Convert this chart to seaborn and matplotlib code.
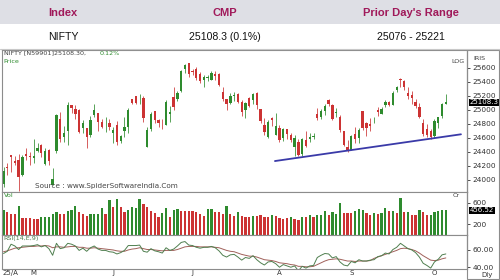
import matplotlib
matplotlib.use("Agg")
import matplotlib.pyplot as plt
import matplotlib.transforms as mtrans
from matplotlib.patches import Rectangle
from matplotlib.lines import Line2D
import seaborn as sns
import numpy as np
import pandas as pd

# ---- data (NIFTY daily, 21 Apr - 7 Oct 2025) ----
header = ["Index", "CMP", "Prior Day's Range"]
row = ["NIFTY", "25108.3 (0.1%)", "25076 - 25221"]

opens = [23950, 24185, 24357, 24277, 24290, 24070, 24370, 24342,
         24311, 24419, 24500, 24233, 24431, 23935, 24420, 24864, 24613, 24694, 25065, 25005, 24997, 24745, 24734, 24639, 24919, 24957, 24832, 24825, 24812,
         24669, 24786, 24560, 24691, 24749, 25160, 25196, 25134, 25164, 24474, 24733, 24977, 24850, 24803, 24787, 24939, 25180, 25150, 25268, 25576, 25661,
         25551, 25588, 25505, 25428, 25451, 25427, 25514, 25511, 25255, 25149, 25090, 25197, 25230, 25108, 24999, 25167, 25139, 25243, 25010, 24782, 24609, 24890, 24643,
         24734, 24596, 24720, 24641, 24464, 24544, 24372, 24563, 24586, 24607, 24938, 24891, 24980, 25142, 25064, 24949, 24900, 24695, 24467,
         24432, 24653, 24596, 24980, 24819, 24803, 24864, 24991, 24945, 25074, 25118, 25074, 25276, 25441, 25410, 25238, 25209, 25108, 25034, 24818, 24729, 24691,
         24620, 24819, 24916, 25085]
highs = [24190, 24242, 24359, 24347, 24365, 24355, 24457, 24396,
         24589, 24526, 24509, 24449, 24448, 24164, 24944, 24973, 24767, 25116, 25070, 25062, 25011, 24856, 24737, 24909, 25079, 24958, 24864, 24892, 24863,
         24754, 24845, 24644, 24899, 25029, 25160, 25199, 25222, 25196, 24754, 24967, 24982, 24863, 24864, 25136, 25058, 25318, 25266, 25566, 25654, 25669,
         25579, 25608, 25533, 25490, 25489, 25548, 25548, 25525, 25322, 25151, 25245, 25255, 25238, 25145, 25111, 25183, 25233, 25247, 25011, 24889, 24848, 24902, 24956,
         24784, 24734, 24733, 24671, 24634, 24586, 24600, 24702, 24664, 24674, 25022, 25012, 25088, 25154, 25084, 25022, 24919, 24702, 24572,
         24636, 24756, 24737, 24981, 24833, 24885, 24891, 25035, 25037, 25139, 25132, 25261, 25346, 25449, 25428, 25331, 25261, 25150, 25093, 24868, 24792, 24731,
         24867, 24904, 25095, 25221]
lows = [23903, 24072, 24119, 24216, 23847, 24054, 24290, 24216,
        24238, 24400, 24331, 24220, 24220, 23935, 24378, 24547, 24535, 24494, 24953, 24875, 24669, 24670, 24462, 24614, 24900, 24704, 24737, 24677, 24717,
        24526, 24502, 24530, 24613, 24671, 25077, 25081, 25082, 24825, 24473, 24703, 24813, 24750, 24733, 24784, 24824, 24999, 25125, 25259, 25523, 25473,
        25489, 25429, 25384, 25331, 25407, 25424, 25424, 25340, 25129, 25001, 25088, 25121, 25101, 24918, 24882, 25035, 25085, 25018, 24806, 24646, 24599, 24771, 24635,
        24535, 24554, 24590, 24539, 24344, 24337, 24347, 24465, 24539, 24578, 24855, 24873, 24930, 25054, 24859, 24894, 24689, 24481, 24404,
        24432, 24529, 24533, 24707, 24621, 24693, 24814, 24915, 24940, 25038, 25057, 25070, 25253, 25329, 25286, 25151, 25084, 25027, 24878, 24629, 24606, 24588,
        24605, 24747, 24881, 25076]
closes = [24125, 24167, 24329, 24247, 24039, 24328, 24336, 24334,
          24346, 24461, 24380, 24414, 24273, 24008, 24925, 24578, 24667, 25062, 25020, 24945, 24684, 24813, 24610, 24853, 25001, 24826, 24752, 24833, 24751,
          24717, 24543, 24621, 24751, 25003, 25103, 25104, 25141, 24888, 24719, 24946, 24853, 24812, 24793, 25112, 24972, 25045, 25245, 25549, 25637, 25517,
          25542, 25454, 25406, 25461, 25461, 25523, 25476, 25355, 25150, 25082, 25196, 25212, 25111, 24968, 25091, 25061, 25220, 25062, 24837, 24681, 24821, 24855, 24768,
          24565, 24723, 24650, 24574, 24596, 24363, 24585, 24487, 24619, 24631, 24877, 24980, 25051, 25084, 24870, 24968, 24712, 24501, 24427,
          24625, 24580, 24716, 24734, 24741, 24773, 24869, 24974, 25005, 25114, 25069, 25239, 25330, 25424, 25327, 25202, 25170, 25057, 24891, 24655, 24634, 24611,
          24836, 24894, 25077, 25108]

volumes = [463, 420, 389, 383, 543, 309, 309, 309, 296, 296,
           327, 327, 339, 389, 420, 383, 383, 444, 463, 543,
           432, 389, 358, 383, 383, 383, 493, 383, 648, 524,
           660, 524, 432, 463, 512, 493, 666, 568, 524, 444,
           401, 339, 401, 493, 339, 463, 481, 444, 444, 444,
           444, 432, 383, 358, 481, 481, 420, 420, 383, 543,
           383, 358, 420, 358, 339, 339,
           358, 358, 370, 339, 327, 370, 358, 309, 290, 309, 327, 290, 278, 339, 327, 370,
           327, 370, 370, 450, 370, 431, 389, 586, 401, 401, 401, 450, 475, 463, 401, 370, 401, 389,
           413, 494, 450, 450, 413, 679, 431, 431, 370, 370, 463, 431, 370, 370, 431, 450, 463, 457]
vol_dir = list("GRRRGRRRRRGGGGGRRGGGRRRGGGGRGRGRRGGGGRRRRRGGRGGRRRRRRRGGRRRGRRGRRR"
               "GRRRRGRRRRGRRGRG"
               "RGGGRGGGRRRGGGRRGRGGRGRGRGRRGRRGGGGG")

rsi = [55.5, 58, 66, 64, 60, 64, 64, 64, 64.5, 65.5,
       63, 64.5, 61, 53.5, 67, 61, 62, 67, 66, 64,
       59, 61.5, 58, 62, 64, 60.5, 59, 59, 57.5, 57,
       55, 56.5, 59, 64.5, 64.5, 64.5, 65, 58, 57, 61,
       58.5, 57.5, 56, 62, 59, 60.5, 64, 68, 69, 65,
       64.5, 62.5, 61.5, 62.5, 62.5, 63.5, 62, 58.5, 53.5, 51.5,
       54, 54.5, 51.5, 48, 51, 50, 53, 48.5, 45, 42.5,
       46, 46.5, 44, 40, 43, 41.5, 40, 41.5, 36, 41,
       39, 41.5, 42, 51, 53.5, 55.5, 55, 50.5, 52, 46,
       42.5, 41.5, 46.5, 45, 48.5, 47, 47, 48, 48.5, 52,
       53, 56, 55, 60, 62.5, 67, 64, 61, 59.5, 56.5,
       51.5, 44.5, 42, 39, 46, 49, 54, 55]
rsi_signal = [57.5, 58.5, 60, 61.5, 62, 62.5, 63, 63.5, 63.5, 64,
              64, 64.5, 64, 62, 63, 63, 62.5, 63, 63.5, 63.5,
              62.5, 62.5, 61.5, 61.5, 62, 61.5, 61, 60.5, 60, 59.5,
              58.5, 58, 58, 59.5, 60.5, 61, 62, 61, 60, 60,
              59.5, 59, 58.5, 59, 59, 59, 60, 61.5, 63, 63.5,
              63.5, 63.5, 63, 63, 63, 63, 62.5, 62, 60.5, 59,
              58, 57.5, 56, 54.5, 53.5, 52.5, 52.5, 51.5, 50, 48.5,
              48, 47.5, 46.5, 45, 44.5, 44, 43, 42.5, 41, 41,
              40.5, 40.5, 41, 43, 45, 47, 48.5, 49, 49.5, 49,
              48, 47, 47, 46.5, 47, 47, 47, 47.5, 50, 51.5,
              53, 54.5, 56, 57.5, 59, 61, 61.5, 61, 60, 58.5,
              56, 53, 50.5, 48, 47.5, 48, 49.5, 50.5]

month_starts = [8, 29, 50, 73, 92, 114]
month_labels = ["M", "J", "J", "A", "S", "O"]
trend_x = [71.8, 121.0]
trend_y = [24270, 24651]

GREEN, RED = "#2e8b2e", "#cc3333"
GRID = "#8c8c8c"

sns.set_style("white")
plt.rcParams["font.family"] = ["DejaVu Sans"]

W, H = 500, 280
fig = plt.figure(figsize=(5, 2.8), dpi=100)
fx = lambda px: px / W
fy = lambda py: 1 - py / H

# ---- header table ----
fig.patches.append(Rectangle((0, fy(24)), 1, 24 / H, transform=fig.transFigure,
                             facecolor="#dedfe5", edgecolor="none", zorder=0))
fig.lines.append(Line2D([0, 1], [fy(49), fy(49)], transform=fig.transFigure,
                        color="#c8c8c8", lw=0.8))
for cx, h, r in zip([63, 225, 411], header, row):
    fig.text(fx(cx), fy(13), h, ha="center", va="center", fontsize=8,
             fontweight="bold", color="#a0195a", family="Liberation Sans")
    fig.text(fx(cx), fy(37), r, ha="center", va="center", fontsize=7.6,
             color="#111111", family="Liberation Sans")

# ---- panels ----
ax_p = fig.add_axes([fx(2), fy(192), 465 / W, 142 / H])
ax_v = fig.add_axes([fx(2), fy(235), 465 / W, 43 / H])
ax_r = fig.add_axes([fx(2), fy(269), 465 / W, 34 / H])

idx = np.arange(len(closes))
o, h_, l, c = map(np.array, (opens, highs, lows, closes))
cols = np.where(c >= o, GREEN, RED)

ax_p.vlines(idx, l, h_, colors=cols, lw=0.7, alpha=0.8)
ax_p.bar(idx, np.maximum(np.abs(c - o), 8), bottom=np.minimum(o, c),
         width=0.62, color=cols, linewidth=0)
sns.lineplot(x=trend_x, y=trend_y, ax=ax_p, color="#3a3aa8", lw=1.3)
ax_p.set_ylim(23829, 25852)
ax_p.set_yticks(np.arange(24000, 25601, 200))

vdf = pd.DataFrame({"i": idx, "vol": volumes, "dir": vol_dir})
sns.barplot(data=vdf, x="i", y="vol", hue="dir", palette={"G": GREEN, "R": RED},
            native_scale=True, dodge=False, width=0.6, legend=False, ax=ax_v,
            linewidth=0, saturation=1)
ax_v.set_ylim(0, 798)
ax_v.set_yticks([200, 600])

rdf = pd.DataFrame({"i": idx, "rsi": rsi, "sig": rsi_signal})
sns.lineplot(data=rdf, x="i", y="sig", ax=ax_r, color="#a0605a", lw=0.7)
sns.lineplot(data=rdf, x="i", y="rsi", ax=ax_r, color="#4f7f4f", lw=0.7)
ax_r.set_ylim(38.0, 76.4)
ax_r.set_yticks([40, 60])
ax_r.set_yticklabels(["40.00", "60.00"])

for ax in (ax_p, ax_v, ax_r):
    ax.set_xlim(-0.4, 122.6)
    ax.set_xlabel("")
    ax.set_ylabel("")
    ax.yaxis.tick_right()
    ax.tick_params(axis="y", length=2.5, width=0.6, pad=1.5, labelsize=5.3,
                   colors="#333333", direction="out")
    for s in ax.spines.values():
        s.set_color(GRID)
        s.set_linewidth(0.8)
    ax.spines["right"].set_color("#333333")
ax_p.set_xticks([])
ax_v.set_xticks([])
ax_r.set_xticks(month_starts)
ax_r.set_xticklabels(month_labels)
ax_r.tick_params(axis="x", length=0, pad=0.8, labelsize=5, colors="#333333")

# outer frame of the right scale area
fig.patches.append(Rectangle((fx(467), fy(279)), 32 / W, 229 / H, transform=fig.transFigure,
                             facecolor="none", edgecolor=GRID, lw=0.8))

# ---- labels in the chart ----
small = dict(fontsize=4.6, color="#444444")
ax_p.text(0.004, 0.995, "NIFTY [N59901]25108.30,", transform=ax_p.transAxes, ha="left", va="top", **small)
ax_p.text(0.21, 0.995, "0.12%", transform=ax_p.transAxes, ha="left", va="top", fontsize=4.6, color=GREEN)
ax_p.text(0.004, 0.94, "Price", transform=ax_p.transAxes, ha="left", va="top", fontsize=4.6, color=GREEN)
ax_p.text(0.995, 0.94, "LOG", transform=ax_p.transAxes, ha="right", va="top", **small)
fig.text(fx(473), fy(58), "IRIS", ha="left", va="center", **small)
ax_p.text(0.07, 0.02, "Source : www.SpiderSoftwareIndia.Com", transform=ax_p.transAxes,
          ha="left", va="bottom", fontsize=5.2, color="#444444")
ax_v.text(0.004, 0.98, "Vol", transform=ax_v.transAxes, ha="left", va="top", fontsize=4.6, color=GREEN)
ax_v.text(0.985, 0.98, "Cr", transform=ax_v.transAxes, ha="right", va="top", **small)
ax_r.text(0.004, 0.98, "RSI(14,E,9)", transform=ax_r.transAxes, ha="left", va="top", fontsize=4.6, color="#4f7f4f")
ax_r.text(0.002, -0.025, "25/A", transform=ax_r.transAxes, ha="left", va="top", fontsize=5, color="#333333")
fig.text(fx(487), fy(274.5), "Dly", ha="center", va="center", fontsize=5, color="#333333")

tag = dict(fontsize=5, color="white", ha="left", va="center",
           bbox=dict(boxstyle="square,pad=0.1", facecolor="black", edgecolor="none"))
ax_p.text(1.006, closes[-1], "25108.3", transform=mtrans.blended_transform_factory(ax_p.transAxes, ax_p.transData), **tag)
ax_v.text(1.006, 456.52, "456.52", transform=mtrans.blended_transform_factory(ax_v.transAxes, ax_v.transData), **tag)

fig.savefig("out.png", dpi=100)
